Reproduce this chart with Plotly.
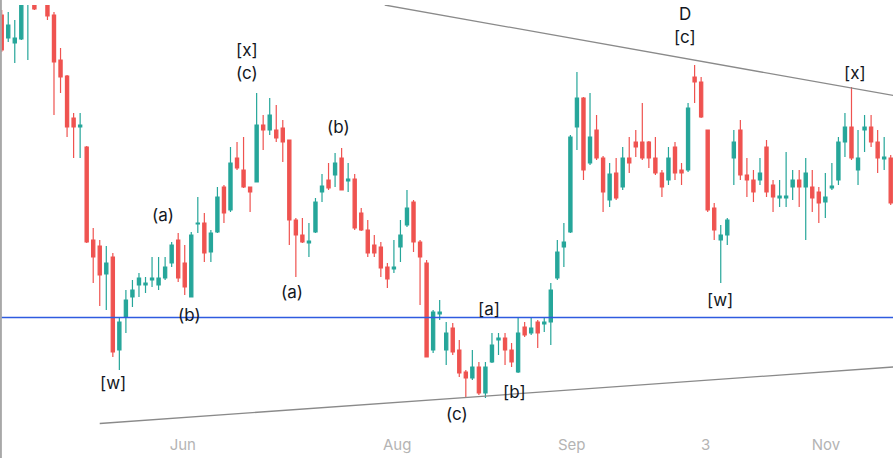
import plotly.graph_objects as go

# candle data (index order), price units
opens = [485, 462, 457, 461, 505, 505, 520, 498, 485, 440, 424, 382, 373, 353, 260, 254, 226, 243, 150, 183,
         203, 215, 215, 220, 215, 222, 237, 260, 237, 203, 276, 277, 248, 268, 313, 290, 342, 330, 313, 318,
         375, 370, 370, 372, 360, 280, 265, 257, 268, 308, 320, 325, 342, 319, 321, 287, 270, 255, 253, 233,
         231, 253, 275, 298, 258, 237, 150, 186, 150, 172, 150, 128, 122, 133, 107, 138, 160, 162, 150, 128,
         173, 167, 178, 176, 178, 222, 253, 268, 373, 402, 337, 370, 342, 300, 327, 313, 342, 358, 358, 358,
         342, 327, 320, 353, 330, 330, 423, 418, 370, 292, 260, 265, 342, 370, 325, 320, 320, 353, 315, 302,
         302, 313, 320, 313, 313, 308, 298, 312, 320, 358, 373, 330, 370, 373, 358, 341, 342]
highs = [490, 488, 480, 515, 520, 510, 525, 505, 488, 452, 425, 387, 387, 354, 272, 260, 254, 247, 183, 210,
         220, 227, 223, 243, 243, 243, 258, 267, 255, 268, 303, 287, 270, 313, 315, 353, 358, 363, 313, 407,
         385, 402, 395, 380, 360, 282, 282, 277, 302, 326, 337, 347, 352, 337, 326, 292, 280, 265, 258, 237,
         260, 280, 310, 300, 260, 240, 190, 200, 178, 177, 160, 130, 150, 138, 138, 167, 167, 167, 157, 183,
         178, 182, 180, 182, 217, 260, 277, 365, 428, 403, 407, 385, 344, 337, 342, 353, 363, 370, 397, 359,
         363, 330, 353, 358, 337, 397, 435, 423, 370, 297, 275, 282, 370, 380, 342, 330, 342, 360, 320, 320,
         348, 330, 330, 342, 330, 313, 327, 337, 363, 387, 413, 370, 385, 385, 370, 363, 345]
lows = [448, 458, 437, 460, 440, 490, 505, 480, 385, 407, 363, 342, 342, 257, 217, 194, 190, 143, 130, 167,
        193, 203, 207, 213, 210, 220, 233, 218, 205, 203, 267, 238, 238, 267, 277, 288, 330, 312, 288, 318,
        350, 365, 358, 338, 255, 223, 257, 243, 267, 298, 310, 313, 310, 308, 270, 269, 243, 243, 223, 212,
        227, 238, 273, 248, 195, 143, 147, 180, 135, 145, 123, 102, 120, 105, 102, 137, 145, 135, 133, 127,
        163, 165, 152, 168, 155, 220, 233, 267, 350, 320, 335, 340, 288, 293, 300, 310, 327, 343, 340, 332,
        325, 303, 315, 320, 315, 328, 397, 382, 288, 260, 217, 255, 315, 320, 303, 298, 315, 303, 288, 293,
        293, 300, 293, 260, 288, 277, 282, 310, 315, 343, 340, 315, 348, 353, 327, 330, 295]
closes = [450, 475, 462, 505, 515, 491, 510, 484, 438, 423, 373, 373, 375, 258, 243, 225, 237, 148, 178, 200,
          210, 222, 217, 222, 222, 233, 255, 222, 213, 265, 277, 247, 267, 303, 287, 337, 332, 313, 308, 375,
          370, 385, 362, 358, 280, 265, 258, 259, 298, 314, 312, 337, 310, 321, 272, 270, 247, 247, 232, 221,
          233, 265, 292, 258, 243, 143, 188, 188, 167, 148, 127, 122, 133, 107, 133, 155, 162, 150, 138, 167,
          165, 172, 167, 178, 210, 248, 258, 363, 402, 330, 363, 342, 308, 326, 302, 342, 337, 353, 342, 342,
          327, 313, 342, 327, 327, 392, 418, 383, 290, 270, 265, 280, 358, 325, 320, 308, 327, 308, 303, 304,
          304, 320, 313, 327, 302, 297, 303, 314, 358, 373, 342, 342, 373, 358, 342, 343, 297]
candle_index = list(range(len(opens)))

# x-axis labels and the candle index where each appears
tick_labels = ["Jun", "Aug", "Sep", "3", "Nov"]
tick_index = [27.7, 60.5, 87.2, 107.7, 126.1]

# wave labels
wave_text = ["[w]", "(a)", "(b)", "[x]", "(c)", "(a)", "(b)", "[a]", "(c)", "[b]", "D", "[c]", "[w]", "[x]"]
wave_x = [17.1, 24.7, 28.8, 37.5, 37.5, 44.4, 51.5, 74.5, 69.6, 78.5, 104.5, 104.5, 109.9, 130.5]
wave_y = [117, 285, 185, 450, 427, 208, 373, 191, 86, 108, 486, 463, 200, 427]

# trendlines and horizontal level
upper_x = [58.6, 136.4]
upper_y = [495, 404.5]
lower_x = [15.0, 136.4]
lower_y = [76.5, 133]
level_y = 182.5

GREEN = "#26a69a"
RED = "#ef5350"

fig = go.Figure()
fig.add_trace(go.Scatter(x=upper_x, y=upper_y, mode="lines",
                         line=dict(color="#8a8a8a", width=1.3), hoverinfo="skip", showlegend=False))
fig.add_trace(go.Scatter(x=lower_x, y=lower_y, mode="lines",
                         line=dict(color="#8a8a8a", width=1.3), hoverinfo="skip", showlegend=False))
fig.add_trace(go.Scatter(x=[-1, 138], y=[level_y, level_y], mode="lines",
                         line=dict(color="#2f5be0", width=1.3), hoverinfo="skip", showlegend=False))
fig.add_trace(go.Candlestick(
    x=candle_index, open=opens, high=highs, low=lows, close=closes,
    increasing=dict(line=dict(color=GREEN, width=1.2), fillcolor=GREEN),
    decreasing=dict(line=dict(color=RED, width=1.2), fillcolor=RED),
    showlegend=False,
))

for t, x, y in zip(wave_text, wave_x, wave_y):
    fig.add_annotation(x=x, y=y, text=t, showarrow=False,
                       font=dict(family="Inter, Noto Sans, sans-serif", size=17, color="#131722"),
                       xanchor="center", yanchor="middle")

fig.add_shape(type="line", xref="paper", yref="paper", x0=0.001, x1=0.001, y0=-0.07, y1=1.02,
              line=dict(color="#a8a8a8", width=2))

fig.update_layout(
    width=893, height=458, autosize=False,
    margin=dict(l=0, r=0, t=5, b=24),
    paper_bgcolor="white", plot_bgcolor="white",
    xaxis=dict(range=[-0.26, 136.35], showgrid=False, zeroline=False, showline=False,
               tickmode="array", tickvals=tick_index, ticktext=tick_labels, ticks="",
               tickfont=dict(family="Inter, Noto Sans, sans-serif", size=15, color="#b4b4b4"),
               rangeslider=dict(visible=False), fixedrange=True),
    yaxis=dict(range=[66, 495], showgrid=False, zeroline=False, showline=False,
               showticklabels=False, fixedrange=True),
    showlegend=False,
)

fig.write_html("out.html", config={"displayModeBar": False},
               post_script="document.body.style.margin='0';document.body.style.overflow='hidden';")
